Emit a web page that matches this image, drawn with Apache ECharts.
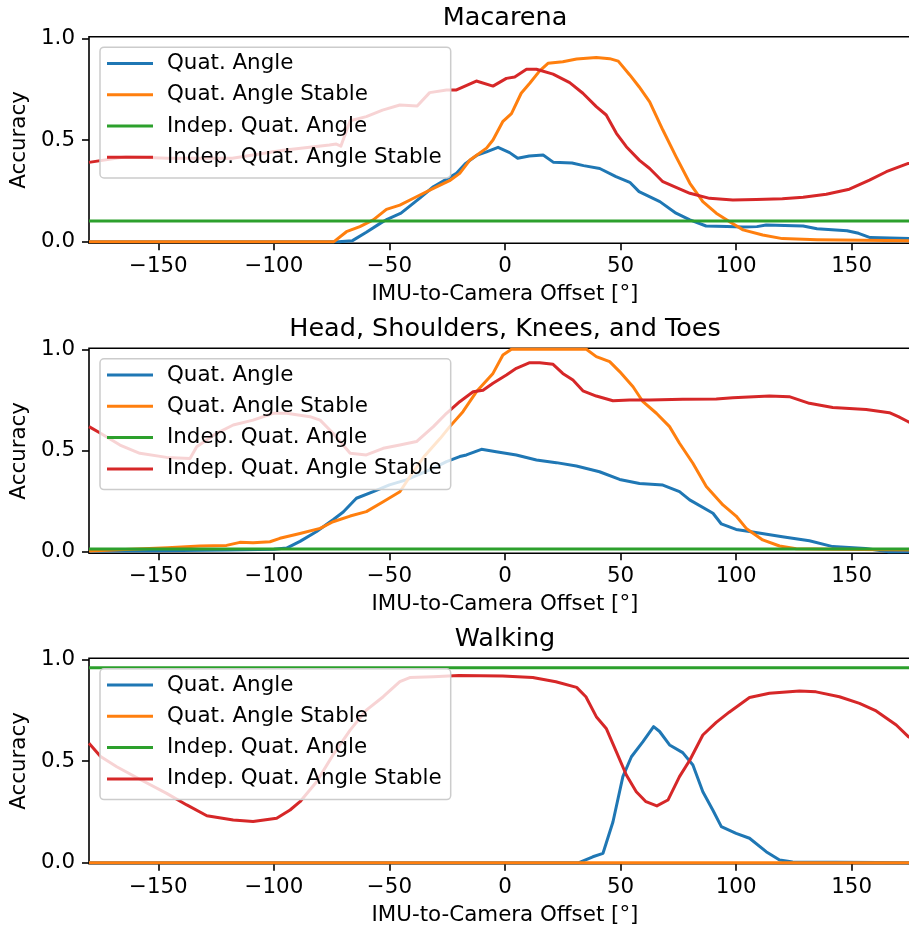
<!DOCTYPE html>
<html><head><meta charset="utf-8">
<script src="https://cdn.jsdelivr.net/npm/echarts@6/dist/echarts.min.js"></script>
<style>html,body{margin:0;padding:0;background:#fff;overflow:hidden;width:909px;height:928px}#c{width:940px;height:928px}</style>
</head><body><div id="c"></div>
<script>
const seriesNames = ['Quat. Angle', 'Quat. Angle Stable', 'Indep. Quat. Angle', 'Indep. Quat. Angle Stable'];
const panelTitles = ['Macarena', 'Head, Shoulders, Knees, and Toes', 'Walking'];
const xTicks = [-150, -100, -50, 0, 50, 100, 150];
const yTicks = [0, 0.5, 1];
const xLabel = 'IMU-to-Camera Offset [°]';
const yLabel = 'Accuracy';

// ---- Macarena ----
const macQuat = [[-180,0],[-72,0],[-66,0.005],[-60,0.046],[-54,0.09],[-51,0.11],[-45,0.14],[-37,0.213],[-31,0.27],[-21,0.336],[-17,0.385],[-12,0.426],[-8,0.442],[-3,0.464],[2,0.438],[5.5,0.41],[10.5,0.421],[16.5,0.426],[21,0.39],[29,0.387],[34,0.374],[41,0.36],[48,0.32],[54,0.292],[58,0.246],[67,0.197],[74,0.14],[80,0.107],[87,0.077],[96,0.075],[103,0.072],[109,0.074],[113,0.082],[129,0.077],[135,0.064],[148,0.054],[153,0.041],[158,0.02],[175,0.015],[180,0.013]];
const macQuatStable = [[-180,0],[-74,0],[-68.6,0.049],[-62.8,0.074],[-57,0.107],[-51.3,0.159],[-45.5,0.18],[-38.3,0.221],[-31,0.262],[-24,0.30],[-19.6,0.336],[-15.3,0.40],[-8,0.46],[-5.2,0.50],[-1,0.59],[2.8,0.63],[7,0.73],[10.7,0.779],[15,0.84],[18.6,0.877],[25,0.885],[31,0.898],[39.5,0.906],[45.3,0.90],[49,0.888],[54,0.82],[58,0.762],[62.6,0.688],[68.3,0.549],[74,0.418],[80,0.287],[85.6,0.197],[91.4,0.14],[97.2,0.098],[103,0.058],[111.5,0.033],[120,0.015],[135,0.01],[175,0.005],[180,0.005]];
const macIndep = [[-180,0.102],[180,0.102]];
const macIndepStable = [[-180,0.39],[-164,0.418],[-146,0.41],[-118,0.41],[-96,0.45],[-76,0.475],[-73,0.48],[-71,0.47],[-67,0.595],[-60,0.615],[-53,0.647],[-45.5,0.672],[-38,0.667],[-32.6,0.733],[-25.3,0.746],[-21,0.746],[-12.4,0.79],[-5.2,0.765],[0.6,0.803],[4.2,0.81],[9.3,0.848],[13.6,0.848],[20.8,0.824],[28,0.782],[33.7,0.73],[39.5,0.664],[43.8,0.623],[48.2,0.533],[52.5,0.467],[58.2,0.40],[62.6,0.36],[68.3,0.295],[74,0.267],[80,0.238],[88.5,0.213],[98.6,0.205],[108.7,0.207],[120,0.211],[129,0.218],[139,0.233],[149,0.258],[157.7,0.303],[165,0.344],[174.5,0.385],[180,0.39]];

// ---- Head, Shoulders, Knees, and Toes ----
const hsktQuat = [[-180,0.003],[-150,0.005],[-120,0.008],[-100,0.012],[-94.5,0.018],[-88.7,0.051],[-81.5,0.10],[-74.4,0.158],[-70,0.196],[-64.3,0.264],[-57,0.297],[-50,0.33],[-42.7,0.355],[-32.6,0.404],[-25.3,0.445],[-19.6,0.47],[-16.7,0.478],[-10.2,0.506],[-3.8,0.494],[4.9,0.478],[13.6,0.453],[22.2,0.44],[30.9,0.423],[40.9,0.395],[49.6,0.357],[58.2,0.337],[68.3,0.329],[75.5,0.297],[79.9,0.256],[90,0.19],[93.6,0.137],[100,0.11],[105.8,0.10],[120,0.074],[131.7,0.054],[141.8,0.025],[156,0.016],[166,0.0],[180,0.0]];
const hsktQuatStable = [[-180,0.003],[-146,0.02],[-132,0.028],[-120.5,0.031],[-114.7,0.046],[-109,0.044],[-101.7,0.049],[-97.4,0.066],[-88.7,0.09],[-80,0.115],[-74.4,0.148],[-67,0.176],[-60,0.198],[-52.7,0.247],[-45.5,0.296],[-40,0.39],[-35,0.47],[-28,0.56],[-23.9,0.618],[-18.2,0.692],[-12.4,0.79],[-5.2,0.881],[-0.9,0.972],[2.8,1.0],[35.2,1.0],[39.5,0.964],[45.3,0.939],[49.6,0.89],[55.4,0.815],[59.7,0.741],[65.5,0.684],[71.2,0.618],[75.5,0.536],[81.3,0.437],[87.1,0.322],[94.3,0.231],[100,0.176],[104.4,0.115],[111.5,0.058],[118.8,0.028],[126,0.015],[141.8,0.012],[180,0.008]];
const hsktIndep = [[-180,0.013],[180,0.013]];
const hsktIndepStable = [[-180,0.618],[-175,0.585],[-166.6,0.527],[-158,0.486],[-146.4,0.466],[-136.3,0.461],[-133.4,0.519],[-124.8,0.585],[-117.6,0.626],[-109,0.65],[-100.3,0.684],[-94.5,0.684],[-84.4,0.667],[-80,0.65],[-74.4,0.585],[-67,0.486],[-60,0.478],[-52.7,0.511],[-45.5,0.527],[-38.3,0.544],[-31,0.618],[-25.3,0.684],[-19.6,0.741],[-13.8,0.79],[-9.5,0.798],[-5.2,0.832],[0.6,0.873],[4.9,0.906],[10.7,0.934],[15,0.934],[20.8,0.926],[25,0.881],[29.4,0.848],[33.7,0.795],[39.5,0.769],[46.7,0.746],[53.9,0.75],[62.6,0.75],[76.9,0.753],[91.4,0.755],[98.6,0.761],[114.4,0.769],[123,0.766],[131.7,0.733],[141.8,0.712],[156.3,0.703],[166.3,0.687],[170.2,0.667],[174.5,0.642],[180,0.618]];

// ---- Walking ----
const walkQuat = [[-180,0],[32,0],[38,0.029],[42.4,0.046],[46.7,0.2],[51,0.423],[54.7,0.521],[59.7,0.595],[64.3,0.669],[66.9,0.645],[71.2,0.579],[76.9,0.541],[81.3,0.48],[85.6,0.349],[89.9,0.259],[93.6,0.177],[100,0.144],[105.8,0.12],[113,0.054],[118.8,0.013],[124.5,0.003],[180,0]];
const walkQuatStable = [[-180,0],[180,0]];
const walkIndep = [[-180,0.959],[180,0.959]];
const walkIndepStable = [[-180,0.587],[-175,0.522],[-168,0.472],[-158,0.41],[-146.4,0.341],[-137.7,0.284],[-129,0.231],[-117.6,0.21],[-109,0.202],[-98.8,0.218],[-93,0.259],[-88.7,0.30],[-81.5,0.398],[-74.4,0.53],[-67,0.652],[-60,0.75],[-52.7,0.816],[-45.5,0.89],[-41.2,0.91],[-31,0.914],[-20,0.92],[-1,0.918],[12,0.911],[22,0.89],[31,0.862],[35,0.816],[39.5,0.718],[43.8,0.66],[48.2,0.545],[52.5,0.431],[56.8,0.349],[61,0.30],[65.7,0.279],[70.5,0.308],[75.5,0.423],[80,0.505],[85.6,0.628],[91.4,0.69],[97,0.74],[105.8,0.812],[114.4,0.833],[127.4,0.844],[134.6,0.84],[144.7,0.816],[153.4,0.783],[160.6,0.746],[169.3,0.677],[174.5,0.62],[180,0.587]];

const panelData = [
  [macQuat, macQuatStable, macIndep, macIndepStable],
  [hsktQuat, hsktQuatStable, hsktIndep, hsktIndepStable],
  [walkQuat, walkQuatStable, walkIndep, walkIndepStable]
];
const colors = ['#1f77b4', '#ff7f0e', '#2ca02c', '#d62728'];

const FONT = 'DejaVu Sans';
const FS = 21.4;
const layout = [
  {top: 36.7, height: 206.6, min: -0.008, max: 1.008},
  {top: 348.3, height: 205.0, min: -0.008, max: 1.005},
  {top: 658.3, height: 205.4, min: -0.005, max: 1.005}
];
const fmtX = v => (v < 0 ? '\u2212' + Math.abs(v) : String(v));

const option = {
  animation: false,
  backgroundColor: '#fff',
  title: [], grid: [], xAxis: [], yAxis: [], legend: [], series: []
};
layout.forEach((L, i) => {
  option.title.push({
    text: panelTitles[i], left: 505, top: L.top - 31.5, textAlign: 'center', padding: 0,
    textStyle: {fontFamily: FONT, fontSize: 25.5, fontWeight: 'normal', color: '#000'}
  });
  option.grid.push({
    left: 89, top: L.top, width: 832, height: L.height, show: true,
    borderColor: '#000', borderWidth: 1.6, backgroundColor: 'transparent'
  });
  option.xAxis.push({
    type: 'value', gridIndex: i, min: -180, max: 180,
    axisLine: {show: false, onZero: false},
    axisTick: {show: true, customValues: xTicks, length: 7, lineStyle: {color: '#000', width: 1.6}},
    axisLabel: {customValues: xTicks, formatter: fmtX, fontFamily: FONT, fontSize: FS, color: '#000', margin: 13},
    splitLine: {show: false},
    name: xLabel, nameLocation: 'middle', nameGap: 41,
    nameTextStyle: {fontFamily: FONT, fontSize: FS, color: '#000'}
  });
  option.yAxis.push({
    type: 'value', gridIndex: i, min: L.min, max: L.max,
    axisLine: {show: false, onZero: false},
    axisTick: {show: true, customValues: yTicks, length: 7, lineStyle: {color: '#000', width: 1.6}},
    axisLabel: {customValues: yTicks, formatter: v => v.toFixed(1), fontFamily: FONT, fontSize: FS, color: '#000', margin: 14},
    splitLine: {show: false},
    name: yLabel, nameLocation: 'middle', nameGap: 58, nameRotate: 90,
    nameTextStyle: {fontFamily: FONT, fontSize: FS, color: '#000'}
  });
  option.legend.push({
    orient: 'vertical', left: 100, top: L.top + 10.5, selectedMode: false,
    data: seriesNames, icon: 'rect', itemWidth: 46, itemHeight: 3, itemGap: 9.9,
    padding: [5.5, 9, 10, 7], backgroundColor: 'rgba(255,255,255,0.8)',
    borderColor: '#cccccc', borderWidth: 1.5, borderRadius: 4,
    textStyle: {fontFamily: FONT, fontSize: FS, color: '#000', lineHeight: 21.4, padding: [0, 0, 0, 9]}
  });
  panelData[i].forEach((d, k) => {
    option.series.push({
      type: 'line', name: seriesNames[k], xAxisIndex: i, yAxisIndex: i,
      data: d, showSymbol: false, symbol: 'none', color: colors[k],
      lineStyle: {width: 3, color: colors[k], join: 'round'}, z: 2 + k * 0.01
    });
  });
});
const chart = echarts.init(document.getElementById('c'), null, {renderer: 'canvas'});
chart.setOption(option);
</script></body></html>
